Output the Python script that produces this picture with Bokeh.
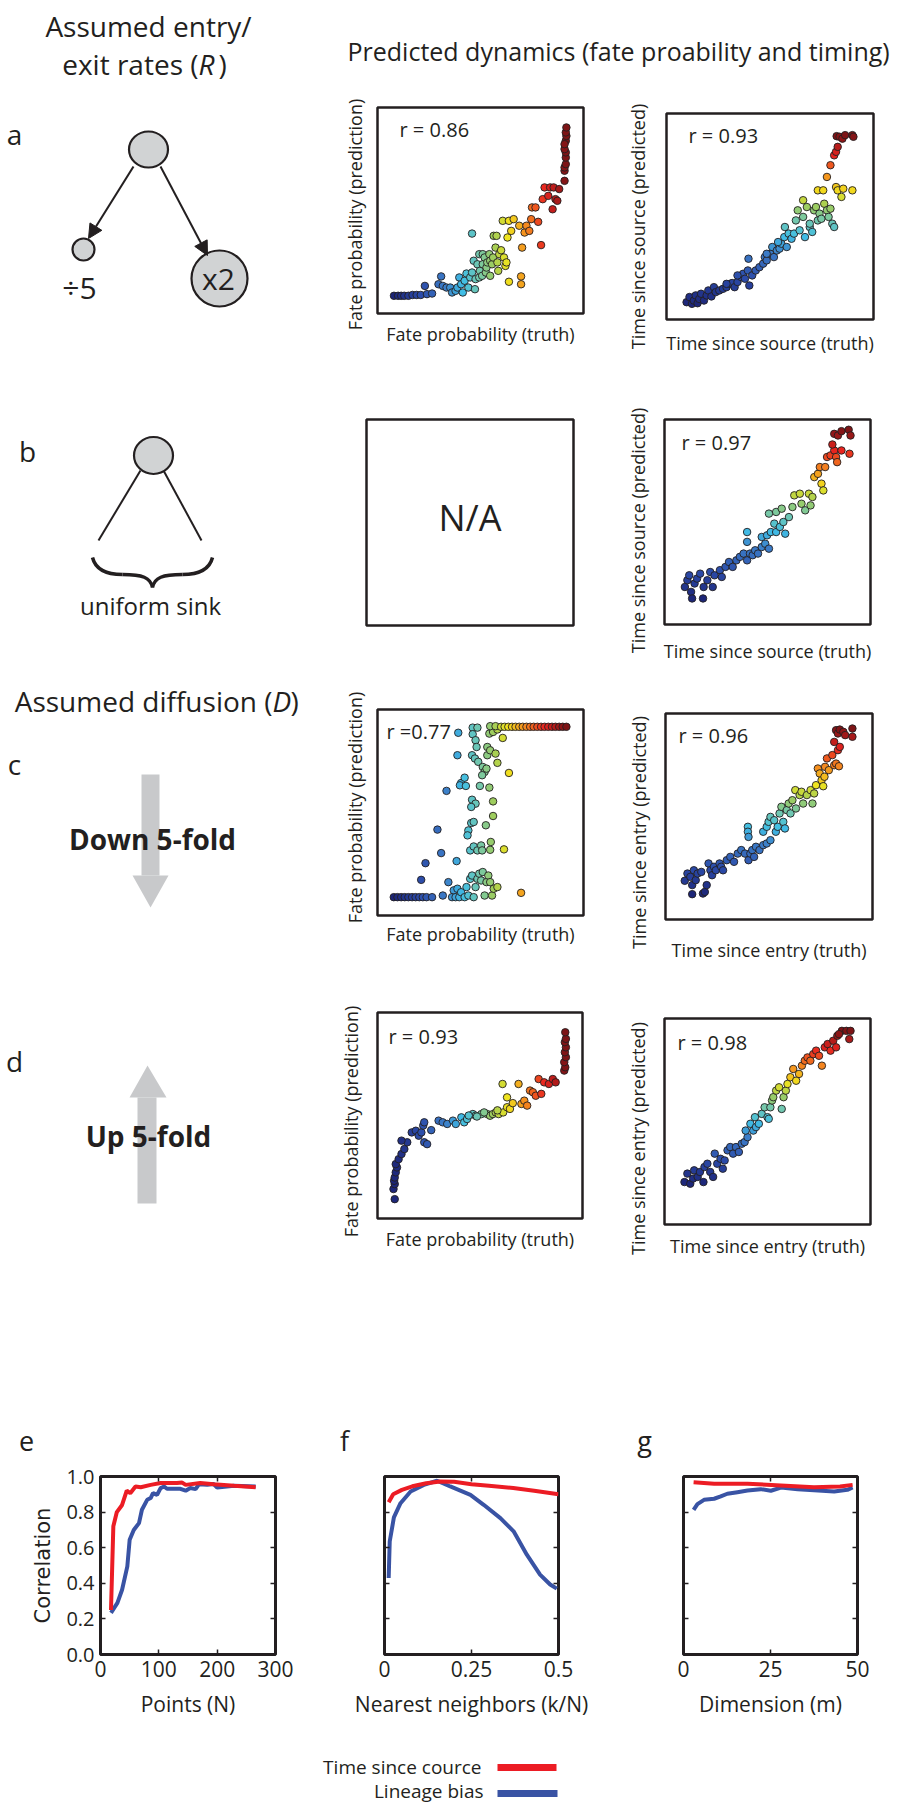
import math
from bokeh.plotting import figure
from bokeh.models import (Range1d, Arrow, NormalHead, LinearAxis, FixedTicker,
                          ColumnDataSource, PrintfTickFormatter)
from bokeh.layouts import column, row
from bokeh.transform import linear_cmap
from bokeh.core.properties import value
from bokeh.embed import file_html
from bokeh.resources import INLINE

# ---------------- data ----------------
# scatter panels: values in % of each panel's (unlabelled) axis span
A1_X = [
    8, 10, 11.5, 13, 15, 17, 19, 21, 23, 24,
    26.5, 29.6, 30.9, 31.7, 33.5, 35.3, 36.2, 37.9, 38.8, 39.7,
    40.6, 41.4, 42.3, 43.2, 44.1, 45.0, 45.9, 45.9, 46.7, 47.3,
    47.6, 48.5, 49.4, 49.4, 49.7, 50.8, 51.1, 51.1, 52.0, 52.6,
    52.9, 53.3, 54.3, 54.7, 54.7, 55.6, 56.1, 56.4, 57.3, 57.8,
    58.2, 58.6, 59.1, 60.0, 60.8, 61.4, 62.1, 62.6, 63.1, 63.8,
    63.8, 64.9, 66.1, 68.8, 69.7, 69.7, 70.2, 71.4, 72.3, 73.7,
    74.6, 75.0, 76.7, 78.0, 79.4, 80.2, 81.1, 82.9, 83.8, 85.0,
    85.5, 86.4, 87.3, 88.2, 90.8, 90.8, 90.8, 91.4, 91.4, 91.4,
    90.8, 91.4, 91.7, 91.4, 91.7, 90.8]
A1_Y = [
    8.6, 8.6, 8.6, 8.6, 8.6, 9, 9, 9, 13.4, 9.4,
    9.7, 14.2, 18.0, 13.4, 12.6, 12.6, 10.2, 11.0, 12.6, 17.5,
    14.2, 10.2, 15.9, 19.4, 12.6, 17.5, 19.9, 38.8, 25.6, 11.8,
    16.7, 23.9, 28.8, 17.5, 20.7, 18.3, 23.9, 28.8, 27.2, 19.9,
    22.3, 24.8, 28.8, 18.3, 25.6, 23.9, 27.2, 37.7, 32.0, 37.7,
    24.8, 20.7, 28.8, 30.7, 45.0, 27.2, 23.1, 24.8, 36.9, 45.0,
    15.4, 40.1, 45.8, 42.6, 14.2, 18.0, 32.0, 39.3, 42.6, 40.1,
    45.8, 51.5, 51.5, 44.5, 33.2, 55.5, 61.2, 57.1, 61.2, 50.6,
    61.2, 55.5, 54.7, 60.4, 64.4, 69.3, 70.9, 72.5, 75.7, 78.2,
    79.8, 83.8, 86.2, 87.9, 90.3, 82.2]

A2_X = [
    9.7, 11.1, 12.3, 13.2, 14.1, 15.0, 15.8, 16.7, 18.1, 19.4,
    20.2, 21.7, 22.9, 23.8, 25.5, 27.3, 29.0, 30.8, 31.7, 32.9,
    34.3, 36.1, 37.0, 37.9, 39.3, 39.6, 40.0, 41.4, 43.1, 44.9,
    46.7, 47.5, 48.4, 50.2, 51.1, 51.9, 53.3, 54.6, 55.5, 56.9,
    57.2, 58.1, 59.0, 60.4, 61.6, 62.5, 63.4, 64.3, 66.0, 66.9,
    67.8, 69.2, 70.4, 71.3, 72.2, 73.1, 73.9, 74.8, 76.2, 77.5,
    78.3, 79.2, 80.1, 81.0, 73.1, 75.7, 79.2, 81.9, 82.7, 84.5,
    85.4, 89.8, 77.5, 81.0, 81.9, 82.7, 82.2, 83.6, 85.0, 86.3,
    89.8, 90.3, 66.0, 69.2, 29.0, 34.3, 48.4, 53.9]
A2_Y = [
    8.4, 10.9, 7.6, 9.2, 11.7, 7.9, 10.0, 12.5, 9.2, 11.7,
    14.1, 11.2, 15.7, 13.3, 14.1, 14.9, 15.7, 17.3, 17.7, 15.7,
    18.2, 20.6, 22.2, 19.8, 23.8, 29.5, 16.5, 21.4, 23.8, 25.4,
    27.1, 30.3, 28.7, 31.9, 35.2, 30.3, 33.5, 34.4, 36.8, 40.0,
    44.9, 35.2, 41.7, 39.2, 41.7, 48.1, 53.0, 43.3, 49.8, 40.0,
    54.6, 44.9, 42.5, 53.0, 54.6, 48.1, 51.4, 48.9, 56.2, 53.0,
    49.8, 53.8, 46.5, 44.9, 62.7, 62.7, 74.9, 64.3, 62.7, 59.5,
    63.5, 62.7, 69.2, 79.7, 81.4, 83.8, 89.0, 88.7, 87.8, 89.5,
    89.5, 88.7, 57.9, 46.5, 17.3, 21.4, 31.9, 37.6]

B2_X = [
    9.9, 11.1, 12.0, 12.9, 13.4, 14.6, 15.8, 17.3, 18.7, 19.0,
    20.8, 22.2, 23.4, 24.3, 26.9, 27.8, 29.6, 31.3, 33.1, 34.9,
    36.6, 38.4, 40.1, 41.5, 42.8, 44.0, 45.4, 47.2, 48.9, 50.7,
    40.1, 40.1, 47.2, 49.8, 51.6, 53.3, 54.2, 56.0, 57.7, 58.6,
    60.4, 62.1, 50.7, 54.2, 56.9, 63.0, 65.7, 66.5, 68.3, 70.1,
    70.9, 71.8, 72.7, 74.5, 75.4, 76.2, 77.1, 78.0, 78.9, 80.6,
    82.4, 83.3, 83.8, 85.9, 89.8, 82.4, 84.2, 85.9, 89.4, 90.3,
    81.5]
B2_Y = [
    18.3, 21.6, 24.0, 15.9, 12.7, 20.0, 22.4, 24.8, 12.7, 18.3,
    21.6, 25.6, 18.3, 24.0, 26.5, 23.2, 28.1, 30.5, 28.1, 31.3,
    33.0, 34.6, 31.3, 34.6, 33.8, 36.2, 34.6, 37.8, 39.4, 37.0,
    45.1, 40.3, 42.7, 43.5, 45.1, 49.2, 45.1, 47.6, 50.0, 44.3,
    52.4, 57.3, 54.1, 54.9, 56.5, 63.0, 63.8, 58.9, 55.7, 63.8,
    58.1, 62.2, 71.9, 73.5, 76.8, 68.7, 65.4, 76.8, 81.7, 82.5,
    84.9, 81.7, 79.2, 84.9, 83.3, 93.0, 92.2, 94.3, 95.0, 92.2,
    87.8]

C1_X = [
    7.9, 9.7, 11.5, 13.2, 15.0, 16.8, 18.5, 20.3, 22.0, 23.8,
    26.5, 21.2, 23.3, 29.1, 30.9, 33.5, 38.4, 38.8, 39.2, 31.7,
    34.4, 36.2, 37.0, 37.9, 38.8, 39.7, 40.6, 42.3, 43.2, 44.1,
    45.0, 45.9, 46.7, 47.6, 48.5, 49.4, 50.3, 51.1, 52.0, 52.9,
    53.8, 54.7, 55.6, 56.4, 58.2, 69.7, 40.6, 42.3, 40.0, 42.9,
    44.1, 43.7, 45.5, 46.7, 45.0, 46.7, 48.5, 50.3, 50.8, 54.7,
    55.0, 61.4, 52.6, 56.1, 56.1, 45.9, 47.6, 45.5, 49.7, 54.3,
    46.2, 48.5, 46.2, 47.6, 48.1, 45.9, 47.3, 48.9, 51.1, 52.0,
    50.8, 52.9, 53.3, 53.3, 54.7, 57.3, 58.2, 63.8, 54.3, 56.1,
    58.2, 60.8, 54.7, 57.3, 60.0, 61.7, 63.5, 65.3, 67.0, 68.8,
    70.5, 72.3, 74.1, 75.8, 77.6, 79.4, 81.1, 82.9, 84.7, 86.4,
    88.2, 89.9, 91.7]
C1_Y = [
    8.9, 8.9, 8.9, 8.9, 8.9, 8.9, 8.9, 8.9, 8.9, 8.9,
    8.9, 17.3, 25.4, 41.7, 30.3, 60.5, 26.4, 77.8, 88.7, 9.7,
    16.2, 8.9, 12.2, 8.9, 13.0, 8.9, 11.3, 8.9, 13.8, 9.7,
    17.8, 19.4, 8.9, 13.8, 17.8, 20.3, 17.0, 21.1, 9.7, 16.2,
    19.4, 16.2, 9.7, 13.0, 13.8, 11.0, 64.3, 66.9, 63.2, 62.9,
    41.3, 38.9, 44.9, 45.4, 31.6, 33.5, 31.6, 34.0, 31.6, 31.9,
    35.7, 32.1, 43.8, 48.3, 55.4, 56.2, 54.3, 52.7, 62.9, 62.1,
    91.2, 91.2, 88.0, 85.1, 81.8, 77.8, 76.2, 74.6, 72.1, 69.7,
    68.1, 71.3, 77.8, 81.8, 80.2, 78.6, 74.1, 69.2, 88.3, 89.1,
    90.3, 86.2, 91.9, 91.9, 91.6, 91.6, 91.6, 91.6, 91.6, 91.6,
    91.6, 91.6, 91.6, 91.6, 91.6, 91.6, 91.6, 91.6, 91.6, 91.6,
    91.6, 91.6, 91.6]

C2_X = [
    9.3, 10.6, 12.0, 12.9, 12.9, 13.7, 14.6, 15.5, 17.3, 18.1,
    19.0, 19.9, 20.8, 21.7, 22.5, 23.4, 24.3, 26.1, 26.9, 27.8,
    29.6, 31.3, 33.1, 34.9, 36.6, 38.4, 40.1, 41.0, 41.9, 42.8,
    43.7, 45.4, 47.2, 48.9, 50.7, 39.8, 39.8, 40.1, 47.2, 48.9,
    49.8, 50.7, 52.5, 53.3, 54.2, 55.1, 56.0, 56.9, 57.7, 58.6,
    59.5, 60.4, 61.3, 62.7, 63.0, 64.8, 65.7, 66.5, 68.3, 70.1,
    71.0, 71.8, 72.7, 73.6, 74.5, 75.4, 76.2, 76.8, 77.1, 78.0,
    78.9, 80.6, 81.5, 82.4, 83.8, 83.3, 84.2, 81.5, 82.4, 83.3,
    84.2, 85.9, 86.8, 90.3, 90.3]
C2_Y = [
    18.8, 22.3, 20.7, 16.7, 12.3, 23.9, 19.1, 22.3, 23.1, 12.6,
    13.4, 16.7, 27.2, 23.9, 21.5, 25.6, 23.9, 27.2, 25.6, 23.9,
    28.8, 30.4, 28.0, 32.0, 33.7, 32.0, 28.8, 32.0, 33.7, 30.4,
    35.3, 33.7, 36.1, 36.9, 38.5, 45.0, 42.6, 40.1, 42.6, 45.0,
    47.4, 49.8, 48.2, 42.6, 45.0, 51.5, 54.7, 47.4, 44.2, 53.1,
    56.3, 51.5, 57.9, 62.8, 53.9, 60.4, 62.0, 56.3, 60.4, 62.8,
    56.3, 61.2, 65.2, 73.3, 70.9, 67.6, 64.7, 69.3, 74.1, 78.2,
    72.5, 79.8, 74.9, 75.7, 74.4, 82.2, 83.8, 86.2, 91.9, 90.3,
    92.2, 91.1, 89.5, 92.7, 88.7]

D1_X = [
    8.4, 7.8, 8.4, 8.1, 8.4, 8.9, 9.5, 8.9, 10.3, 11.7,
    13.1, 14.5, 11.7, 16.7, 18.7, 20.1, 21.4, 22.8, 24.2, 22.3,
    22.8, 26.2, 29.8, 31.8, 34.0, 36.8, 38.2, 40.9, 42.3, 43.7,
    46.5, 47.9, 50.7, 53.5, 54.9, 56.3, 57.7, 59.1, 61.3, 63.2,
    64.6, 61.0, 63.2, 68.8, 70.2, 71.6, 73.0, 74.4, 75.8, 77.2,
    79.9, 78.6, 81.3, 83.6, 85.5, 86.9, 91.1, 91.6, 91.1, 91.9,
    91.4, 91.9, 91.4, 91.9, 91.6, 48.5, 52.0, 44.5, 58.5, 66.0]
D1_Y = [
    9.4, 14.3, 16.7, 18.3, 19.9, 22.4, 24.8, 26.4, 28.8, 31.3,
    33.7, 37.0, 37.8, 41.8, 42.6, 40.2, 41.8, 37.0, 36.1, 45.1,
    46.7, 42.9, 47.5, 46.7, 45.9, 47.5, 45.9, 49.1, 46.7, 48.3,
    50.7, 49.9, 50.7, 50.7, 49.9, 50.7, 51.5, 50.7, 51.5, 54.0,
    53.2, 65.3, 58.8, 65.3, 55.6, 57.2, 54.8, 62.1, 61.3, 59.6,
    60.5, 67.7, 66.1, 65.3, 67.7, 66.1, 71.8, 73.4, 75.9, 78.3,
    80.7, 83.1, 85.6, 87.2, 90.4, 49.5, 51.5, 50.0, 52.5, 56.0]

D2_X = [
    9.7, 11.1, 12.5, 13.9, 14.4, 16.1, 17.2, 18.9, 19.4, 20.8,
    22.2, 23.6, 24.4, 25.6, 27.2, 28.3, 29.2, 30.6, 31.9, 33.3,
    34.7, 36.1, 37.5, 38.9, 40.3, 39.4, 41.7, 43.1, 43.9, 44.4,
    45.8, 47.2, 48.6, 50.0, 50.6, 51.4, 52.2, 52.8, 54.2, 55.6,
    56.9, 57.8, 58.9, 59.7, 61.1, 62.5, 63.9, 65.3, 66.7, 68.1,
    69.4, 70.8, 72.2, 73.6, 75.0, 76.4, 77.8, 79.2, 80.6, 81.9,
    83.3, 83.9, 86.1, 88.3, 89.7, 90.3, 84.7]
D2_Y = [
    20.6, 24.7, 19.8, 22.3, 26.3, 23.1, 25.5, 20.6, 27.9, 29.5,
    25.5, 23.1, 34.4, 29.5, 31.9, 27.1, 31.1, 36.0, 37.6, 34.4,
    37.6, 35.2, 39.2, 40.0, 42.4, 45.6, 48.9, 45.6, 52.1, 47.3,
    48.9, 53.7, 56.9, 52.1, 51.3, 56.9, 60.2, 61.8, 65.0, 66.6,
    56.1, 61.8, 65.0, 68.2, 71.5, 75.5, 69.8, 73.1, 77.1, 79.5,
    81.1, 79.5, 82.7, 84.4, 81.9, 77.1, 86.0, 87.6, 84.4, 89.2,
    86.0, 91.6, 94.0, 94.0, 90.0, 94.0, 92.4]

R_TEXT = ["r = 0.86", "r = 0.93", "r = 0.97", "r =0.77", "r = 0.96", "r = 0.93", "r = 0.98"]

# line panels e, f, g
E_N_RED = [18, 22, 28, 37, 45, 51, 60, 69, 86, 103, 131, 140, 146, 171, 194, 229, 266]
E_RED = [0.25, 0.72, 0.80, 0.84, 0.92, 0.906, 0.944, 0.94, 0.953, 0.963, 0.963, 0.966,
         0.953, 0.963, 0.957, 0.948, 0.94]
E_N_BLUE = [18, 29, 37, 46, 50, 57, 66, 71, 80, 86, 90, 97, 103, 109, 114, 137, 146, 154,
            163, 169, 183, 194, 200, 229, 266]
E_BLUE = [0.234, 0.29, 0.364, 0.495, 0.645, 0.70, 0.738, 0.813, 0.869, 0.879, 0.907, 0.897,
          0.935, 0.944, 0.931, 0.931, 0.92, 0.935, 0.929, 0.957, 0.953, 0.958, 0.938, 0.948, 0.944]

F_K_RED = [0.012, 0.025, 0.05, 0.08, 0.12, 0.16, 0.2, 0.25, 0.3, 0.37, 0.43, 0.5]
F_RED = [0.855, 0.9, 0.925, 0.945, 0.962, 0.972, 0.97, 0.957, 0.948, 0.935, 0.92, 0.9]
F_K_BLUE = [0.012, 0.015, 0.027, 0.046, 0.075, 0.113, 0.151, 0.189, 0.247, 0.285, 0.333,
            0.371, 0.409, 0.447, 0.476, 0.495]
F_BLUE = [0.43, 0.635, 0.77, 0.85, 0.916, 0.953, 0.976, 0.944, 0.897, 0.841, 0.766, 0.692,
          0.561, 0.449, 0.393, 0.37]

G_M_RED = [2.9, 8.8, 18.4, 28.0, 37.5, 45.0, 48.6]
G_RED = [0.968, 0.959, 0.959, 0.95, 0.94, 0.944, 0.953]
G_M_BLUE = [2.9, 4.0, 5.9, 8.8, 10.7, 12.6, 15.5, 18.4, 22.2, 25.1, 28.0, 32.8, 37.5, 43.3,
            47.1, 48.6]
G_BLUE = [0.813, 0.845, 0.869, 0.875, 0.888, 0.903, 0.912, 0.921, 0.929, 0.92, 0.938, 0.929,
          0.923, 0.916, 0.925, 0.938]

Y_TICKS = [0, 0.2, 0.4, 0.6, 0.8, 1.0]
E_TICKS = [0, 100, 200, 300]
F_TICKS = [0, 0.25, 0.5]
G_TICKS = [0, 25, 50]
SERIES_NAMES = ["Time since cource", "Lineage bias"]

# ---------------- style ----------------
INK = "#231f20"
SANS = "Open Sans"
RED = "#ec1c24"
BLUE = "#3953a4"
CIRCLE_FILL = "#d1d3d4"
ARROW_GRAY = "#c8c9cb"

_ANCHORS = [(0.0, (29, 38, 120)), (0.15, (43, 74, 168)), (0.30, (60, 125, 200)),
            (0.40, (64, 190, 230)), (0.50, (118, 200, 170)), (0.58, (160, 205, 90)),
            (0.66, (240, 228, 30)), (0.76, (245, 145, 30)), (0.88, (232, 35, 31)),
            (1.0, (125, 20, 22))]


def palette(n=256):
    out = []
    for i in range(n):
        t = i / (n - 1)
        for (t0, c0), (t1, c1) in zip(_ANCHORS[:-1], _ANCHORS[1:]):
            if t0 <= t <= t1:
                f = (t - t0) / (t1 - t0)
                c = [int(round(a + (b - a) * f)) for a, b in zip(c0, c1)]
                out.append("#%02x%02x%02x" % tuple(c))
                break
    return out


PAL = palette()


def base(w, h, xr, yr, left=0, right=0, top=0, bottom=0):
    p = figure(width=w, height=h, x_range=xr, y_range=yr, x_axis_type=None, y_axis_type=None,
               output_backend="svg", toolbar_location=None,
               min_border_left=left, min_border_right=right,
               min_border_top=top, min_border_bottom=bottom)
    p.outline_line_color = None
    p.background_fill_color = "white"
    p.border_fill_color = "white"
    return p


def pix(w, h):
    return base(w, h, Range1d(0, w), Range1d(h, 0))


def txt(p, x, y, s, size, align="center", style="normal", font=SANS, angle=0.0):
    p.text(x=[x], y=[y], text=[s], text_font=value(font), text_font_size=f"{size}px",
           text_align=align, text_baseline="middle", text_font_style=style, text_color=INK,
           angle=angle)


def scatter_panel(w, h, left, top, fw, fh, xs, ys, cvals, rtext, r_dx, r_dy,
                  xlabel, xl_dy, ylabel, yl_dx, yl_dy, na=False):
    # the figure's frame fills the whole canvas; data 0..100 maps onto the drawn box
    bottom = h - top - fh
    sx, sy = 100.0 / fw, 100.0 / fh
    p = base(w, h, Range1d(-left * sx, (w - left) * sx), Range1d(-bottom * sy, (h - bottom) * sy))
    p.quad(left=[0], right=[100], bottom=[0], top=[100], fill_color=None,
           line_color=INK, line_width=2.5)
    if xs:
        src = ColumnDataSource(dict(x=xs, y=ys, c=cvals))
        p.scatter("x", "y", source=src, size=7.5,
                  fill_color=linear_cmap("c", PAL, min(cvals), max(cvals)),
                  line_color=INK, line_width=0.9)
    if rtext:
        txt(p, r_dx * sx, 100 - r_dy * sy, rtext, 20, align="left")
    if na:
        txt(p, 50, 52.5, "N/A", 36)
    if xlabel:
        txt(p, 50, xl_dy * sy, xlabel, 18)
    if ylabel:
        txt(p, yl_dx * sx, yl_dy * sy, ylabel, 18, angle=math.pi / 2)
    return p


def mk_axis(ticks, show, size=20, formatter=None, overrides=None):
    ax = LinearAxis(ticker=FixedTicker(ticks=ticks))
    ax.axis_line_color = None
    ax.major_tick_in = 5
    ax.major_tick_out = 0
    ax.major_tick_line_color = INK
    ax.major_tick_line_width = 1.5
    ax.minor_tick_line_color = None
    if formatter is not None:
        ax.formatter = formatter
    if show:
        if overrides:
            ax.major_label_overrides = overrides
        ax.major_label_text_font = SANS
        ax.major_label_text_font_size = f"{size}px"
        ax.major_label_text_color = INK
        ax.major_label_standoff = 6
    else:
        ax.major_label_overrides = {t: "" for t in ticks}
        ax.major_label_text_font_size = "0px"
    return ax


def line_panel(w, h, left, top, fw, fh, xr, xticks, overrides, series, xlabel, ylabels):
    p = base(w, h, Range1d(*xr), Range1d(0, 1.0), left, w - left - fw, top, h - top - fh)
    p.outline_line_color = INK
    p.outline_line_width = 3
    for xs, ys, col in series:
        p.line(xs, ys, line_color=col, line_width=4)
    bx = mk_axis(xticks, True, 21, overrides=overrides)
    bx.axis_label = xlabel
    bx.axis_label_text_font = SANS
    bx.axis_label_text_font_size = "21px"
    bx.axis_label_text_font_style = "normal"
    bx.axis_label_text_color = INK
    bx.axis_label_standoff = 10
    p.add_layout(bx, "below")
    p.add_layout(mk_axis(xticks, False), "above")
    ly = mk_axis(Y_TICKS, ylabels, 20, formatter=PrintfTickFormatter(format="%.1f"))
    if ylabels:
        ly.axis_label = "Correlation"
        ly.axis_label_text_font = "DejaVu Sans"
        ly.axis_label_text_font_size = "21px"
        ly.axis_label_text_font_style = "normal"
        ly.axis_label_text_color = INK
        ly.axis_label_standoff = 8
    p.add_layout(ly, "left")
    p.add_layout(mk_axis(Y_TICKS, False), "right")
    return p


# ---------------- header ----------------
hdr = pix(898, 85)
txt(hdr, 148, 25, "Assumed entry/", 28)
txt(hdr, 198, 63, "exit rates (", 28, align="right")
txt(hdr, 198, 63, "R", 28, align="left", style="italic")
txt(hdr, 218, 63, ")", 28, align="left")
txt(hdr, 347, 50, "Predicted dynamics (fate proability and timing)", 25, align="left")

# ---------------- row a ----------------
la = pix(320, 290)
txt(la, 14, 48, "a", 28)
la.ellipse(x=[148, 83, 219], y=[64, 164, 193], width=[39, 22, 56], height=[36, 22, 56],
           fill_color=CIRCLE_FILL, line_color=INK, line_width=2.2)
txt(la, 218, 193, "x2", 30)
txt(la, 79, 202, "÷5", 30)
for xs0, ys0, xe, ye in [(133, 81, 88, 153), (160, 81, 207, 170)]:
    la.add_layout(Arrow(end=NormalHead(size=14, fill_color=INK, line_color=INK, line_width=1),
                        x_start=xs0, y_start=ys0, x_end=xe, y_end=ye,
                        line_width=2, line_color=INK))

ma = scatter_panel(290, 290, 57, 22, 206, 206, A1_X, A1_Y, A1_X, R_TEXT[0], 22, 22,
                   "Fate probability (truth)", -20, "Fate probability (prediction)", -23, 99)
ra = scatter_panel(288, 290, 56, 28, 207, 206, A2_X, A2_Y, A2_Y, R_TEXT[1], 22, 22,
                   "Time since source (truth)", -23, "Time since source (predicted)", -29, 93)

# ---------------- row b ----------------
lb = pix(320, 305)
txt(lb, 27, 75, "b", 28)
lb.segment(x0=[140, 163], y0=[95, 95], x1=[98, 201], y1=[165, 165], line_color=INK, line_width=2)
lb.ellipse(x=[153], y=[80], width=[39], height=[37], fill_color=CIRCLE_FILL,
           line_color=INK, line_width=2.2)
lb.bezier(x0=[92, 122, 212, 182], y0=[182, 199, 182, 199],
          x1=[122, 152, 182, 152], y1=[199, 212, 199, 212],
          cx0=[95, 142, 209, 162], cy0=[194, 199, 194, 199],
          cx1=[105, 150, 199, 154], cy1=[199, 202, 199, 202],
          line_color=INK, line_width=3.5)
txt(lb, 150, 230, "uniform sink", 24)

mb = scatter_panel(290, 305, 46, 44, 207, 206, [], [], [], None, 0, 0, None, 0, None, 0, 0, na=True)
rb = scatter_panel(288, 305, 54, 44, 206, 205, B2_X, B2_Y, B2_Y, R_TEXT[2], 17, 23,
                   "Time since source (truth)", -26, "Time since source (predicted)", -27, 94)

# ---------------- row c ----------------
lc = pix(320, 305)
txt(lc, 272, 20, "Assumed diffusion (", 28, align="right")
txt(lc, 272, 20, "D", 28, align="left", style="italic")
txt(lc, 290, 20, ")", 28, align="left")
txt(lc, 14, 83, "c", 28)
lc.quad(left=[141], right=[159], top=[94], bottom=[195], fill_color=ARROW_GRAY, line_color=None)
lc.patch(x=[132, 168, 150], y=[195, 195, 227], fill_color=ARROW_GRAY, line_color=None)
txt(lc, 152, 158, "Down 5-fold", 28, style="bold")

mc = scatter_panel(290, 305, 57, 29, 206, 206, C1_X, C1_Y, C1_X, R_TEXT[3], 9, 22,
                   "Fate probability (truth)", -18, "Fate probability (prediction)", -23, 108)
rc = scatter_panel(288, 305, 55, 33, 207, 206, C2_X, C2_Y, C2_Y, R_TEXT[4], 13, 22,
                   "Time since entry (truth)", -30, "Time since entry (predicted)", -27, 87)

# ---------------- row d ----------------
ld = pix(320, 275)
txt(ld, 14, 75, "d", 28)
ld.quad(left=[137], right=[156], top=[112], bottom=[218], fill_color=ARROW_GRAY, line_color=None)
ld.patch(x=[129, 166, 147], y=[112, 112, 80], fill_color=ARROW_GRAY, line_color=None)
txt(ld, 148, 150, "Up 5-fold", 28, style="bold")

md = scatter_panel(290, 275, 57, 27, 205, 206, D1_X, D1_Y, D1_X, R_TEXT[5], 11, 24,
                   "Fate probability (truth)", -20, "Fate probability (prediction)", -27, 97)
rd = scatter_panel(288, 275, 54, 33, 206, 206, D2_X, D2_Y, D2_Y, R_TEXT[6], 13, 24,
                   "Time since entry (truth)", -21, "Time since entry (predicted)", -27, 86)

# ---------------- panel letters e, f, g ----------------
le = pix(898, 202)
txt(le, 26, 180, "e", 27)
txt(le, 344, 180, "f", 27)
txt(le, 644, 180, "g", 27)

# ---------------- row e/f/g ----------------
fe = line_panel(330, 268, 100, 14, 175, 178, (0, 300), E_TICKS, None,
                [(E_N_BLUE, E_BLUE, BLUE), (E_N_RED, E_RED, RED)], "Points (N)", True)
ff = line_panel(290, 268, 54, 14, 174, 178, (0, 0.5), F_TICKS, {0: "0", 0.25: "0.25", 0.5: "0.5"},
                [(F_K_BLUE, F_BLUE, BLUE), (F_K_RED, F_RED, RED)], "Nearest neighbors (k/N)", False)
fg = line_panel(278, 268, 63, 14, 174, 178, (0, 50), G_TICKS, None,
                [(G_M_BLUE, G_BLUE, BLUE), (G_M_RED, G_RED, RED)], "Dimension (m)", False)

# ---------------- legend ----------------
lg = pix(898, 72)
txt(lg, 481, 36, SERIES_NAMES[0], 19, align="right")
txt(lg, 483, 60, SERIES_NAMES[1], 19, align="right")
lg.segment(x0=[497, 497], y0=[37, 63], x1=[556, 557], y1=[37, 63],
           line_color=[RED, BLUE], line_width=7)

layout = column(
    hdr,
    row(la, ma, ra),
    row(lb, mb, rb),
    row(lc, mc, rc),
    row(ld, md, rd),
    le,
    row(fe, ff, fg),
    lg,
)

open("out.html", "w").write(file_html(layout, INLINE))
